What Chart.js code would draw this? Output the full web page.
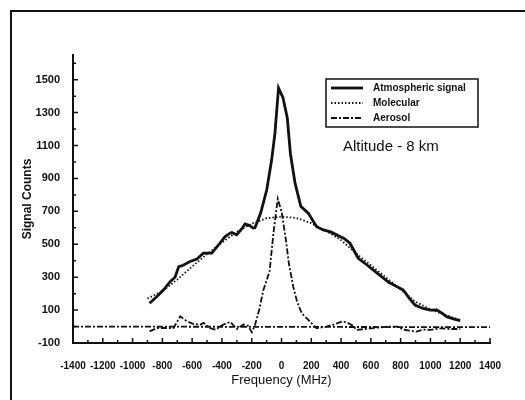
<!DOCTYPE html>
<html>
<head>
<meta charset="utf-8">
<script src="https://cdn.jsdelivr.net/npm/chart.js@4.4.1/dist/chart.umd.min.js"></script>
<style>
  body { margin: 0; background: #fff; }
  #wrap { position: relative; width: 525px; height: 400px; overflow: hidden; }
  #frame { position: absolute; left: 10px; top: 10px; width: 530px; height: 400px;
           border-top: 2px solid #111; border-left: 2px solid #111; }
  canvas { position: absolute; left: 0; top: 0; }
</style>
</head>
<body>
<div id="wrap">
  <div id="frame"></div>
  <canvas id="chart" width="525" height="400"></canvas>
</div>
<script>
// Atmospheric signal (solid)
const atmFreq = [-886, -840, -790, -748, -715, -690, -660, -614, -568, -525, -468, -420, -380, -346, -334, -301, -270, -245, -211, -190, -178, -140, -99, -66, -44, -20, 10, 39, 60, 91, 130, 180, 236, 281, 330, 370, 420, 460, 515, 570, 640, 720, 818, 860, 896, 950, 1000, 1042, 1080, 1109, 1160, 1200];
const atmCounts = [141, 180, 225, 273, 300, 364, 372, 395, 410, 446, 446, 500, 545, 567, 571, 557, 590, 624, 612, 598, 600, 690, 831, 1013, 1175, 1449, 1390, 1267, 1050, 871, 730, 689, 607, 587, 575, 557, 535, 506, 415, 377, 326, 269, 222, 170, 131, 110, 100, 101, 80, 60, 45, 36];

// Molecular (dotted)
const molFreq = [-900, -800, -700, -600, -500, -400, -300, -200, -100, 0, 100, 200, 300, 400, 500, 600, 700, 800, 900, 1000, 1100, 1200];
const molCounts = [170, 215, 285, 365, 440, 510, 575, 625, 658, 668, 660, 628, 580, 525, 445, 372, 300, 225, 150, 105, 70, 40];

// Aerosol (dash-dot)
const aerFreq = [-886, -836, -760, -725, -680, -635, -590, -545, -523, -480, -440, -412, -370, -344, -300, -255, -225, -199, -177, -150, -121, -80, -54, -25, 2, 29, 50, 79, 105, 136, 180, 236, 300, 349, 405, 440, 480, 505, 560, 617, 706, 780, 819, 860, 906, 953, 1000, 1064, 1130, 1200];
const aerCounts = [-29, -9, -9, -9, 62, 32, 15, 12, 22, -10, -19, 1, 20, 28, -15, 12, 5, -35, 12, 101, 224, 336, 569, 776, 691, 529, 380, 242, 150, 81, 40, -11, 0, 12, 30, 25, 5, -21, -15, -9, -1, 0, -19, -25, -31, -19, -20, -11, -15, -15];

// zero baseline across the plot
const baseFreq = [-1400, 1400];
const baseCounts = [0, -4];

const xTickValues = [-1400, -1200, -1000, -800, -600, -400, -200, 0, 200, 400, 600, 800, 1000, 1200, 1400];
const yTickValues = [-100, 100, 300, 500, 700, 900, 1100, 1300, 1500];

const pts = (xs, ys) => xs.map((x, i) => ({ x: x, y: ys[i] }));

const FONT = "'Liberation Sans', Arial, sans-serif";
const DASH_DOT = [6, 2, 2, 2];

// inward tick marks (major + minor every 100)
const innerTicks = {
  id: 'innerTicks',
  afterDraw(chart) {
    const ctx = chart.ctx;
    const xs = chart.scales.x, ys = chart.scales.y;
    const a = chart.chartArea;
    ctx.save();
    ctx.strokeStyle = '#111';
    ctx.lineWidth = 1.5;
    ctx.beginPath();
    for (let v = -1400; v <= 1400; v += 100) {
      const px = xs.getPixelForValue(v);
      const len = v % 200 === 0 ? 5 : 3;
      ctx.moveTo(px, a.bottom);
      ctx.lineTo(px, a.bottom - len);
    }
    for (let v = -100; v <= 1600; v += 100) {
      const py = ys.getPixelForValue(v);
      const len = (v + 100) % 200 === 0 ? 5 : 3;
      ctx.moveTo(a.left, py);
      ctx.lineTo(a.left + len, py);
    }
    ctx.stroke();
    ctx.restore();
  }
};

// boxed legend and altitude note
const boxLegend = {
  id: 'boxLegend',
  afterDraw(chart) {
    const ctx = chart.ctx;
    ctx.save();
    ctx.strokeStyle = '#111';
    ctx.lineWidth = 1.5;
    ctx.strokeRect(326, 79, 152, 48);

    const rows = chart.data.datasets.slice(0, 3);
    rows.forEach((ds, i) => {
      const y = 88 + i * 15;
      ctx.beginPath();
      ctx.lineWidth = ds.borderWidth;
      ctx.setLineDash(ds.borderDash || []);
      ctx.moveTo(331, y);
      ctx.lineTo(363, y);
      ctx.stroke();
      ctx.setLineDash([]);
      ctx.fillStyle = '#111';
      ctx.font = 'bold 10px ' + FONT;
      ctx.textBaseline = 'middle';
      ctx.textAlign = 'left';
      ctx.fillText(ds.label, 373, y);
    });

    ctx.font = '15px ' + FONT;
    ctx.textAlign = 'left';
    ctx.textBaseline = 'middle';
    ctx.fillText('Altitude - 8 km', 343, 147);
    ctx.restore();
  }
};

new Chart(document.getElementById('chart'), {
  type: 'scatter',

  data: {
    datasets: [{
      label: 'Atmospheric signal',
      data: pts(atmFreq, atmCounts),
      showLine: true,
      borderColor: '#111',
      borderWidth: 2.8,
      pointRadius: 0
    }, {
      label: 'Molecular',
      data: pts(molFreq, molCounts),
      showLine: true,
      borderColor: '#111',
      borderWidth: 1.8,
      borderDash: [1.5, 2],
      pointRadius: 0
    }, {
      label: 'Aerosol',
      data: pts(aerFreq, aerCounts),
      showLine: true,
      borderColor: '#111',
      borderWidth: 1.8,
      borderDash: DASH_DOT,
      pointRadius: 0
    }, {
      label: 'baseline',
      data: pts(baseFreq, baseCounts),
      showLine: true,
      borderColor: '#111',
      borderWidth: 1.8,
      borderDash: DASH_DOT,
      pointRadius: 0
    }]
  },

  options: {
    responsive: false,
    animation: false,
    layout: { padding: { left: 0, top: 55, right: 35, bottom: 0 } },

    plugins: {
      legend: { display: false },
      tooltip: { enabled: false }
    },

    scales: {
      x: {
        type: 'linear',
        min: -1400,
        max: 1400,
        afterFit: s => { s.height = 57; },
        afterBuildTicks: s => { s.ticks = xTickValues.map(v => ({ value: v })); },
        border: { color: '#111', width: 2 },
        grid: { display: false },
        ticks: {
          color: '#111',
          padding: 9,
          maxRotation: 0,
          autoSkip: false,
          callback: v => String(v),
          font: { family: FONT, size: 10, weight: 'bold' }
        },
        title: {
          display: true,
          text: 'Frequency (MHz)',
          color: '#111',
          padding: { top: 0, bottom: 12 },
          font: { family: FONT, size: 13 }
        }
      },

      y: {
        min: -100,
        max: 1650,
        afterFit: s => { s.width = 73; },
        afterBuildTicks: s => { s.ticks = yTickValues.map(v => ({ value: v })); },
        border: { color: '#111', width: 2 },
        grid: { display: false },
        ticks: {
          color: '#111',
          padding: 5,
          autoSkip: false,
          callback: v => String(v),
          font: { family: FONT, size: 11, weight: 'bold' }
        },
        title: {
          display: true,
          text: 'Signal Counts',
          color: '#111',
          padding: { top: 20, bottom: 0 },
          font: { family: FONT, size: 12, weight: 'bold' }
        }
      }
    }
  },

  plugins: [innerTicks, boxLegend]
});
</script>
</body>
</html>
